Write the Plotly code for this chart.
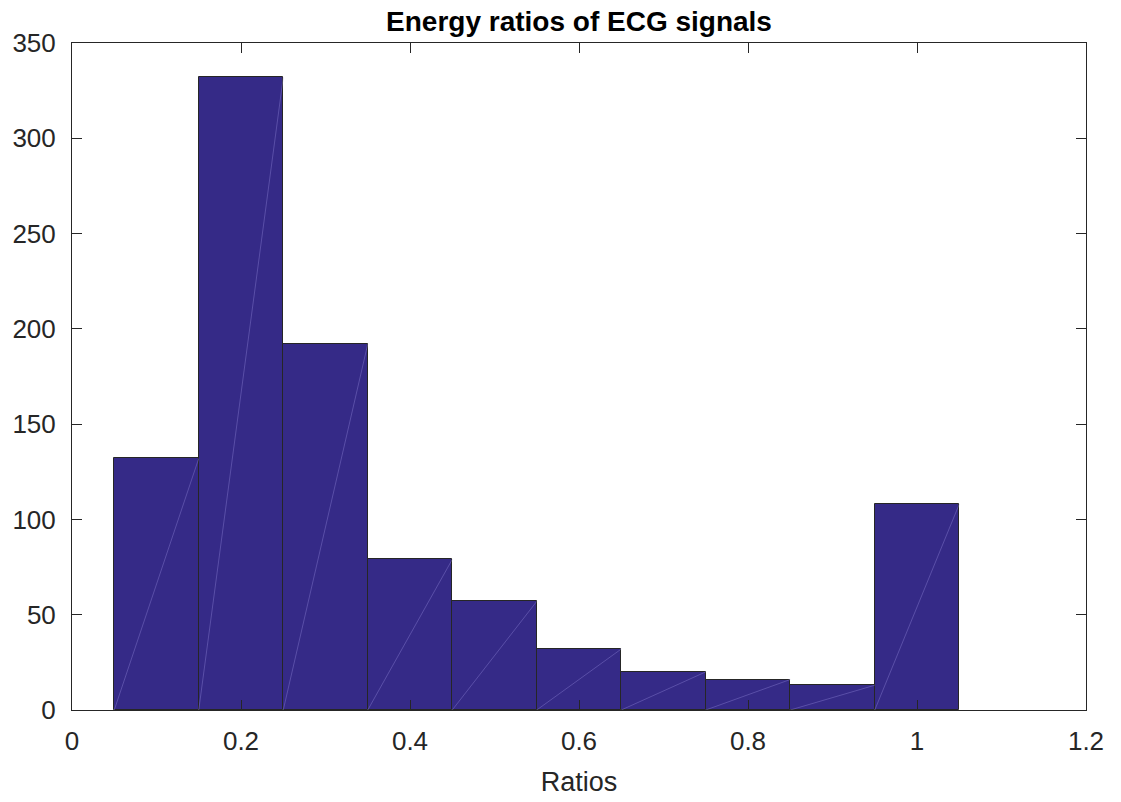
import plotly.graph_objects as go

bin_centers = [0.1, 0.2, 0.3, 0.4, 0.5, 0.6, 0.7, 0.8, 0.9, 1.0]
counts = [132, 332, 192, 79, 57, 32, 20, 16, 13, 108]
bin_width = 0.1
x_ticks = [0, 0.2, 0.4, 0.6, 0.8, 1, 1.2]
x_tick_labels = ["0", "0.2", "0.4", "0.6", "0.8", "1", "1.2"]
y_ticks = [0, 50, 100, 150, 200, 250, 300, 350]

FONT = "Liberation Sans, Arial, sans-serif"

fig = go.Figure()
fig.add_trace(go.Bar(
    x=bin_centers, y=counts, width=[bin_width] * len(counts),
    marker=dict(color="#352a87", line=dict(color="#262626", width=1)),
    showlegend=False, hoverinfo="x+y",
))

# faint diagonal triangulation lines as in the reference rendering
dx, dy = [], []
for c, n in zip(bin_centers, counts):
    dx += [c - bin_width / 2, c + bin_width / 2, None]
    dy += [0, n, None]
fig.add_trace(go.Scatter(
    x=dx, y=dy, mode="lines",
    line=dict(color="rgba(150,140,220,0.55)", width=0.7),
    showlegend=False, hoverinfo="skip",
))

axis_common = dict(
    showline=True, linecolor="#262626", linewidth=1, mirror="ticks",
    ticks="inside", ticklen=10, tickcolor="#262626", tickwidth=1,
    showgrid=False, zeroline=False,
    tickfont=dict(family=FONT, size=26, color="#262626"),
)

fig.update_layout(
    width=1121, height=802,
    margin=dict(l=72, r=35, t=43, b=92),
    paper_bgcolor="white", plot_bgcolor="white",
    bargap=0,
    title=dict(
        text="<b>Energy ratios of ECG signals</b>",
        xref="paper", x=0.5, xanchor="center", y=0.973, yanchor="middle",
        font=dict(family=FONT, size=28, color="black"),
    ),
    xaxis=dict(
        range=[0, 1.2], tickvals=x_ticks, ticktext=x_tick_labels,
        ticklabelstandoff=8,
        title=dict(text="Ratios", font=dict(family=FONT, size=27, color="#262626"), standoff=16),
        **axis_common,
    ),
    yaxis=dict(
        range=[0, 350], tickvals=y_ticks, ticklabelstandoff=10,
        **axis_common,
    ),
)

fig.write_html("out.html")
